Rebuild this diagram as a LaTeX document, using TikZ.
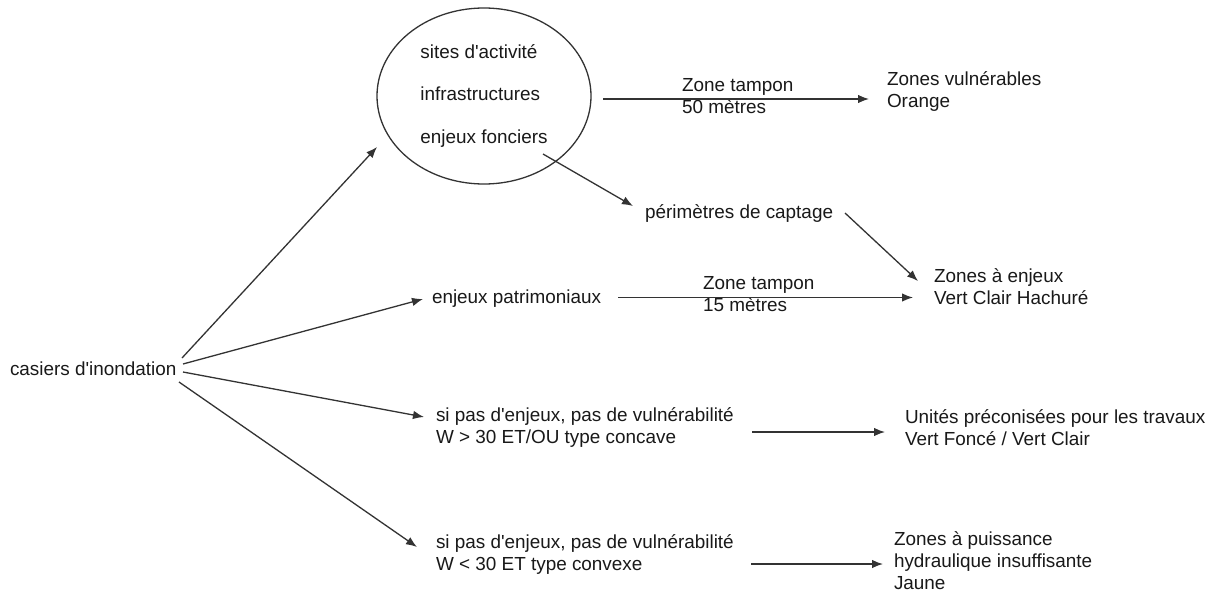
\documentclass[tikz,border=0pt]{standalone}
\usepackage{fontspec}
\setmainfont{Liberation Sans}[Ligatures=TeXOff]
\usetikzlibrary{shapes.geometric,arrows.meta}
\newcommand{\fsmain}{\fontsize{18.9}{22}\selectfont}
\newcommand{\fsell}{\fontsize{18.9}{42.5}\selectfont}
\tikzset{
  txt/.style={anchor=north west, inner sep=0pt, outer sep=0pt, align=left, font=\fsmain, text=black!90, execute at begin node={\strut}},
  arr/.style={line width=1.3pt, draw=black!80, -{Latex[length=11pt,width=8.5pt]}},
  bubble/.style={draw=black!80, line width=1.3pt, ellipse, minimum width=214pt, minimum height=176pt, inner sep=0pt, align=left, font=\fsell, text=black!90}
}
\begin{document}
\begin{tikzpicture}[x=1pt,y=-1pt]
\useasboundingbox (0,0) rectangle (1211,594);
\fill[white] (0,0) rectangle (1211,594);

\node[bubble] (E) at (484,96) {sites d'activité\\infrastructures\\enjeux fonciers};
\node[txt] (cas) at (10,359.6) {casiers d'inondation};
\node[txt] (zt1) at (682,78.6) {Zone tampon\\50 mètres};
\node[txt] (vuln) at (887,71.6) {Zones vulnérables\\Orange};
\node[txt] (perim) at (645,202.6) {périmètres de captage};
\node[txt] (patr) at (432,287.6) {enjeux patrimoniaux};
\node[txt] (zt2) at (703,276.6) {Zone tampon\\15 mètres};
\node[txt] (enj) at (934,268.6) {Zones à enjeux\\Vert Clair Hachuré};
\node[txt] (si1) at (436,407.6) {si pas d'enjeux, pas de vulnérabilité\\W > 30 ET/OU type concave};
\node[txt] (unit) at (905,409.6) {Unités préconisées pour les travaux\\Vert Foncé / Vert Clair};
\node[txt] (si2) at (436,534.6) {si pas d'enjeux, pas de vulnérabilité\\W < 30 ET type convexe};
\node[txt] (puis) at (894,531.6) {Zones à puissance\\hydraulique insuffisante\\Jaune};

\draw[arr] ([shift={(172,-1.6)}]cas.north west) -- ([shift={(-107,51)}]E.center);
\draw[arr] ([shift={(173,4.4)}]cas.north west) -- ([shift={(-9,11.4)}]patr.north west);
\draw[arr] ([shift={(173,12.4)}]cas.north west) -- ([shift={(-12,9.4)}]si1.north west);
\draw[arr] ([shift={(169,22.4)}]cas.north west) -- ([shift={(-19,12.4)}]si2.north west);
\draw[arr] ([shift={(119,3)}]E.center) -- ([shift={(-18,27.4)}]vuln.north west);
\draw[arr] ([shift={(59,58)}]E.center) -- ([shift={(-12,3.4)}]perim.north west);
\draw[arr] ([shift={(200,10.4)}]perim.north west) -- ([shift={(-16,12.4)}]enj.north west);
\draw[arr] ([shift={(186,9.9)}]patr.north west) -- ([shift={(-21,28.9)}]enj.north west);
\draw[arr] ([shift={(316,24.4)}]si1.north west) -- ([shift={(-20,22.4)}]unit.north west);
\draw[arr] ([shift={(315,29.4)}]si2.north west) -- ([shift={(-11,32.4)}]puis.north west);
\end{tikzpicture}
\end{document}
